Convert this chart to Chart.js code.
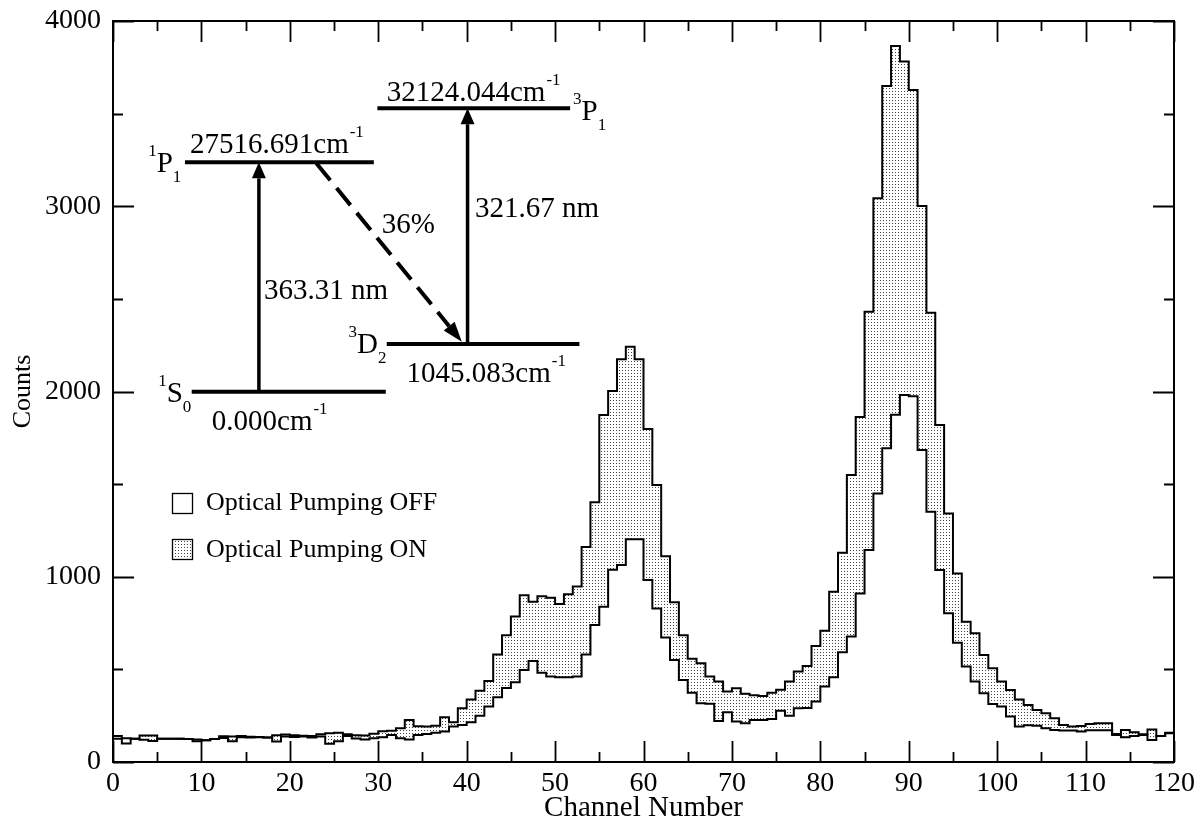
<!DOCTYPE html>
<html>
<head>
<meta charset="utf-8">
<script src="https://cdn.jsdelivr.net/npm/chart.js@4.4.0/dist/chart.umd.min.js"></script>
<style>
  html, body { margin: 0; padding: 0; background: #fff; }
  #wrap { width: 1202px; height: 829px; }
</style>
</head>
<body>
<div id="wrap"><canvas id="grafico" width="1202" height="829"></canvas></div>
<script>
// bordas dos canais (0..120), cada bin vai de i até i+1
const canais = [];
for (let i = 0; i <= 120; i++) canais.push(i);

// contagens, canal 0 a 119
const contagensOff = [
  125, 128, 125, 120, 113, 126, 126, 125, 124, 122,
  118, 124, 130, 112, 133, 132, 133, 132, 110, 138,
  135, 138, 132, 137,  98, 112, 140, 127, 122, 128,
  133, 146, 128, 122, 146, 151, 158, 165, 192, 200,
  215, 250, 300, 350, 400, 430, 497, 545, 482, 462,
  458, 458, 462, 580, 740, 838, 1038, 1063, 1202, 1202,
  982, 828, 672, 551, 443, 374, 317, 315, 221, 268,
  218, 209, 227, 227, 232, 277, 250, 290, 292, 326,
  407, 457, 592, 677, 910, 1144, 1450, 1693, 1875, 1981,
  1975, 1684, 1351, 1036, 803, 644, 515, 434, 371, 313,
  300, 245, 191, 198, 196, 182, 173, 170, 170, 164,
  172, 172, 172, 146, 133, 140, 146, 119, 140, 155
];
const contagensOn = [
  140, 100, 125, 143, 143, 126, 126, 125, 124, 112,
  118, 124, 139, 137, 140, 136, 135, 132, 145, 149,
  145, 142, 140, 150, 155, 158, 150, 145, 143, 152,
  166, 169, 182, 227, 193, 192, 196, 241, 215, 290,
  337, 385, 437, 580, 684, 786, 900, 865, 895, 886,
  853, 905, 948, 1160, 1402, 1873, 2003, 2174, 2242, 2174,
  1798, 1495, 1110, 862, 684, 558, 533, 462, 434, 380,
  398, 368, 360, 356, 374, 390, 434, 488, 518, 626,
  709, 919, 1130, 1549, 1862, 2431, 3043, 3649, 3865, 3781,
  3628, 3001, 2425, 1819, 1342, 1018, 757, 695, 578, 506,
  434, 389, 338, 308, 281, 263, 236, 200, 191, 195,
  205, 209, 209, 151, 173, 160, 150, 176, 140, 158
];

const FONTE = '"Liberation Serif", "Times New Roman", serif';

// padrão pontilhado do preenchimento "ON"
function criarPontilhado() {
  const tile = document.createElement('canvas');
  tile.width = 3; tile.height = 3;
  const t = tile.getContext('2d');
  t.fillStyle = '#fff';
  t.fillRect(0, 0, 3, 3);
  t.fillStyle = '#444';
  t.fillRect(1, 1, 1, 1);
  return t.createPattern(tile, 'repeat');
}
const pontilhado = criarPontilhado();

function pontosHistograma(valores) {
  return canais.map((c, i) => ({ x: c, y: valores[Math.min(i, valores.length - 1)] }));
}

// moldura e ticks para dentro, nos quatro lados
const molduraPlugin = {
  id: 'moldura',
  afterDatasetsDraw(chart) {
    const { ctx, chartArea: a, scales } = chart;
    ctx.save();
    ctx.strokeStyle = '#000';
    ctx.lineWidth = 1.8;
    for (let v = 0; v <= 120; v += 5) {
      const px = Math.round(scales.x.getPixelForValue(v)) + 0.5;
      const len = v % 10 === 0 ? 21 : 10;
      ctx.beginPath();
      ctx.moveTo(px, a.bottom); ctx.lineTo(px, a.bottom - len);
      ctx.moveTo(px, a.top); ctx.lineTo(px, a.top + len);
      ctx.stroke();
    }
    for (let v = 0; v <= 4000; v += 500) {
      const py = Math.round(scales.y.getPixelForValue(v)) + 0.5;
      const len = v % 1000 === 0 ? 21 : 10;
      ctx.beginPath();
      ctx.moveTo(a.left, py); ctx.lineTo(a.left + len, py);
      ctx.moveTo(a.right, py); ctx.lineTo(a.right - len, py);
      ctx.stroke();
    }
    ctx.lineWidth = 2;
    ctx.strokeRect(a.left, a.top, a.right - a.left, a.bottom - a.top);
    ctx.restore();
  }
};

// diagrama de níveis de energia (coordenadas em unidades dos eixos)
const niveis = [
  { x1: 8.14, x2: 29.5, y: 3237 },
  { x1: 29.9, x2: 51.7, y: 3529 },
  { x1: 30.96, x2: 52.75, y: 2256 },
  { x1: 8.9, x2: 30.85, y: 1999 }
];
const setas = [
  { x1: 16.5, y1: 1999, x2: 16.5, y2: 3237, tracejada: false },
  { x1: 40.1, y1: 2256, x2: 40.1, y2: 3529, tracejada: false },
  { x1: 23.0, y1: 3232, x2: 39.45, y2: 2269, tracejada: true }
];
const rotulos = [
  { t: '27516.691cm', sup: '-1', x: 8.71, y: 3286 },
  { t: '32124.044cm', sup: '-1', x: 30.96, y: 3570 },
  { t: '1045.083cm', sup: '-1', x: 33.2, y: 2053 },
  { t: '0.000cm', sup: '-1', x: 11.17, y: 1792 },
  { t: '36%', x: 30.4, y: 2857 },
  { t: '321.67 nm', x: 40.95, y: 2944 },
  { t: '363.31 nm', x: 17.08, y: 2498 }
];
const termos = [
  { sup: '1', l: 'P', sub: '1', x: 4.94, y: 3187 },
  { sup: '3', l: 'P', sub: '1', x: 53.0, y: 3466 },
  { sup: '3', l: 'D', sub: '2', x: 27.6, y: 2206 },
  { sup: '1', l: 'S', sub: '0', x: 6.07, y: 1945 }
];

const diagramaPlugin = {
  id: 'diagrama',
  afterDraw(chart) {
    const { ctx, scales } = chart;
    const X = v => scales.x.getPixelForValue(v);
    const Y = v => scales.y.getPixelForValue(v);
    ctx.save();
    ctx.strokeStyle = '#000';
    ctx.fillStyle = '#000';
    ctx.lineCap = 'butt';

    ctx.lineWidth = 4;
    niveis.forEach(n => {
      ctx.beginPath();
      ctx.moveTo(X(n.x1), Y(n.y)); ctx.lineTo(X(n.x2), Y(n.y));
      ctx.stroke();
    });

    setas.forEach(s => {
      const x1 = X(s.x1), y1 = Y(s.y1), x2 = X(s.x2), y2 = Y(s.y2);
      const ang = Math.atan2(y2 - y1, x2 - x1);
      const comp = s.tracejada ? 20 : 16, larg = 7;
      const bx = x2 - comp * Math.cos(ang), by = y2 - comp * Math.sin(ang);
      ctx.lineWidth = s.tracejada ? 4 : 3.5;
      ctx.setLineDash(s.tracejada ? [22, 10] : []);
      ctx.beginPath();
      ctx.moveTo(x1, y1); ctx.lineTo(bx, by);
      ctx.stroke();
      ctx.setLineDash([]);
      ctx.beginPath();
      ctx.moveTo(x2, y2);
      ctx.lineTo(bx + larg * Math.sin(ang), by - larg * Math.cos(ang));
      ctx.lineTo(bx - larg * Math.sin(ang), by + larg * Math.cos(ang));
      ctx.closePath();
      ctx.fill();
    });

    ctx.textBaseline = 'alphabetic';
    rotulos.forEach(r => {
      ctx.font = '29px ' + FONTE;
      ctx.textAlign = 'left';
      const x = X(r.x), y = Y(r.y);
      ctx.fillText(r.t, x, y);
      if (r.sup) {
        const w = ctx.measureText(r.t).width;
        ctx.font = '17px ' + FONTE;
        ctx.fillText(r.sup, x + w + 1, y - 16);
      }
    });

    termos.forEach(t => {
      const x = X(t.x), y = Y(t.y);
      ctx.font = '17px ' + FONTE;
      ctx.textAlign = 'right';
      ctx.fillText(t.sup, x, y - 16);
      ctx.font = '29px ' + FONTE;
      ctx.textAlign = 'left';
      ctx.fillText(t.l, x, y);
      const w = ctx.measureText(t.l).width;
      ctx.font = '17px ' + FONTE;
      ctx.fillText(t.sub, x + w, y + 10);
    });
    ctx.restore();
  }
};

// legenda dentro do gráfico
const legendaItens = [
  { texto: 'Optical Pumping OFF', caixaY: 1452, baseY: 1360, fundo: '#fff' },
  { texto: 'Optical Pumping ON', caixaY: 1204, baseY: 1107, fundo: pontilhado }
];
const legendaPlugin = {
  id: 'legendaInterna',
  afterDraw(chart) {
    const { ctx, scales } = chart;
    const X = v => scales.x.getPixelForValue(v);
    const Y = v => scales.y.getPixelForValue(v);
    ctx.save();
    legendaItens.forEach(item => {
      const bx = Math.round(X(6.67)) + 0.5, by = Math.round(Y(item.caixaY)) + 0.5;
      ctx.fillStyle = item.fundo;
      ctx.fillRect(bx, by, 20, 20);
      ctx.strokeStyle = '#000';
      ctx.lineWidth = 1.3;
      ctx.strokeRect(bx, by, 20, 20);
      ctx.fillStyle = '#000';
      ctx.font = '26px ' + FONTE;
      ctx.textAlign = 'left';
      ctx.textBaseline = 'alphabetic';
      ctx.fillText(item.texto, X(10.52), Y(item.baseY));
    });
    ctx.restore();
  }
};

const ctx = document.getElementById('grafico').getContext('2d');
new Chart(ctx, {
  type: 'line',
  data: {
    datasets: [
      {
        label: 'Optical Pumping OFF',
        data: pontosHistograma(contagensOff),
        stepped: 'before',
        borderColor: '#000',
        borderWidth: 2,
        backgroundColor: '#fff',
        fill: 'origin',
        pointRadius: 0,
        borderJoinStyle: 'miter'
      },
      {
        label: 'Optical Pumping ON',
        data: pontosHistograma(contagensOn),
        stepped: 'before',
        borderColor: '#000',
        borderWidth: 2,
        backgroundColor: pontilhado,
        fill: 'origin',
        pointRadius: 0,
        borderJoinStyle: 'miter'
      }
    ]
  },
  options: {
    responsive: false,
    animation: false,
    layout: { padding: { left: 0, top: 21, right: 28, bottom: 0 } },
    plugins: {
      legend: { display: false },
      tooltip: { enabled: false },
      filler: { drawTime: 'beforeDatasetsDraw' }
    },
    scales: {
      x: {
        type: 'linear',
        min: 0,
        max: 120,
        grid: { display: false, drawTicks: false },
        border: { display: false },
        ticks: { stepSize: 10, color: '#000', padding: 5, maxRotation: 0, font: { family: FONTE, size: 28 },
                 callback: v => String(v) },
        title: { display: true, text: 'Channel Number', color: '#000', font: { family: FONTE, size: 29 }, padding: { top: 0, bottom: 3 } },
        afterFit(s) { s.height = 67; s.paddingLeft = 0; s.paddingRight = 0; }
      },
      y: {
        min: 0,
        max: 4000,
        grid: { display: false, drawTicks: false },
        border: { display: false },
        ticks: { stepSize: 1000, color: '#000', padding: 12, font: { family: FONTE, size: 28 },
                 callback: v => String(v) },
        title: { display: true, text: 'Counts', color: '#000', font: { family: FONTE, size: 26 }, padding: { top: 8, bottom: 4 } },
        afterFit(s) { s.width = 113; s.paddingTop = 0; s.paddingBottom = 0; }
      }
    }
  },
  plugins: [molduraPlugin, diagramaPlugin, legendaPlugin]
});
</script>
</body>
</html>
